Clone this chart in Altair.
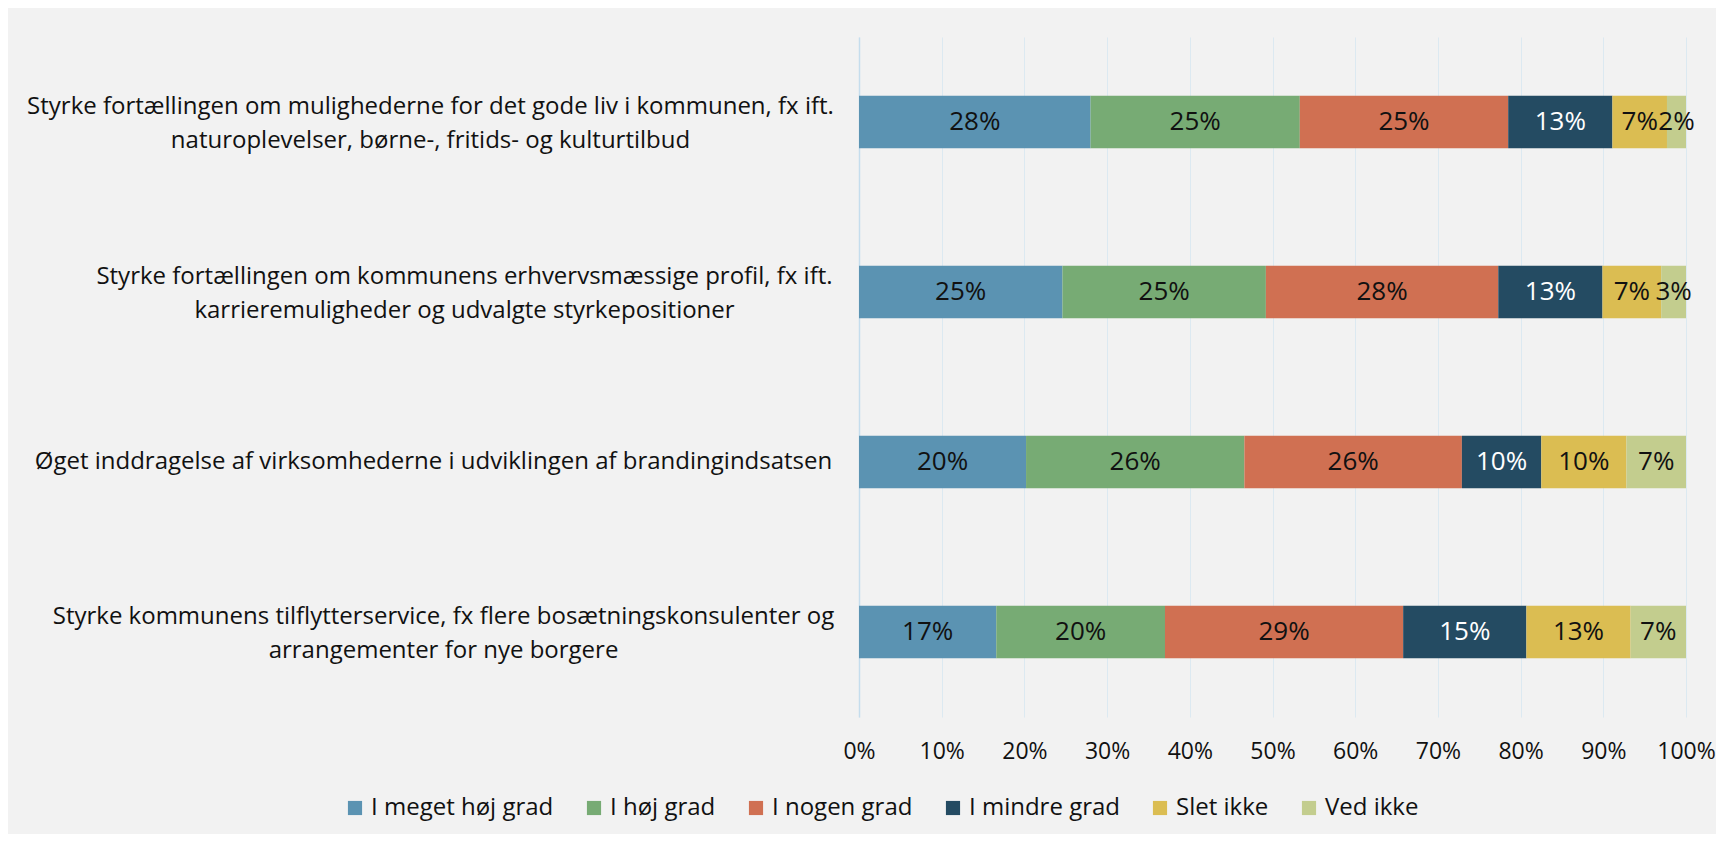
import altair as alt
import pandas as pd

categories = [
    "Styrke fortællingen om mulighederne for det gode liv i kommunen, fx ift.\nnaturoplevelser, børne-, fritids- og kulturtilbud",
    "Styrke fortællingen om kommunens erhvervsmæssige profil, fx ift.\nkarrieremuligheder og udvalgte styrkepositioner",
    "Øget inddragelse af virksomhederne i udviklingen af brandingindsatsen",
    "Styrke kommunens tilflytterservice, fx flere bosætningskonsulenter og\narrangementer for nye borgere",
]
series = ["I meget høj grad", "I høj grad", "I nogen grad", "I mindre grad", "Slet ikke", "Ved ikke"]
colors = ["#5b93b2", "#77ab74", "#d07052", "#244b62", "#dbbd52", "#c3cd8e"]

meget_hoej = [28.0, 24.6, 20.2, 16.6]
hoej = [25.3, 24.6, 26.4, 20.4]
nogen = [25.2, 28.1, 26.3, 28.8]
mindre = [12.6, 12.6, 9.6, 14.9]
slet_ikke = [6.6, 7.1, 10.3, 12.6]
ved_ikke = [2.3, 3.0, 7.2, 6.7]

x_ticks = [0, 0.1, 0.2, 0.3, 0.4, 0.5, 0.6, 0.7, 0.8, 0.9, 1.0]

rows = []
for s_i, (name, vals) in enumerate(zip(series, [meget_hoej, hoej, nogen, mindre, slet_ikke, ved_ikke])):
    for c, v in zip(categories, vals):
        rows.append({"cat": c, "series": name, "order": s_i, "value": v})
df = pd.DataFrame(rows)

FONT = "Open Sans"
TXT = "#111111"

base = alt.Chart(df).transform_stack(
    stack="value",
    groupby=["cat"],
    sort=[alt.SortField("order", order="ascending")],
    as_=["v0", "v1"],
    offset="normalize",
).transform_calculate(
    mid="(datum.v0 + datum.v1) / 2",
    lbl="format(datum.value, '.0f') + '%'",
)

y_enc = alt.Y(
    "cat:N",
    sort=categories,
    scale=alt.Scale(paddingInner=0.69, paddingOuter=0.345),
    axis=alt.Axis(
        title=None,
        labelExpr="split(datum.label, '\\n')",
        labelAlign="center",
        labelPadding={
            "condition": [
                {"test": "indexof(datum.value, 'erhvervsm') >= 0", "value": 395},
                {"test": "indexof(datum.value, 'inddragelse') >= 0", "value": 426},
                {"test": "indexof(datum.value, 'tilflytter') >= 0", "value": 416},
            ],
            "value": 429,
        },
        labelLimit=1200,
        labelFontSize=24,
        labelLineHeight=34,
        labelOffset={
            "condition": {"test": "indexof(datum.value, '\\n') >= 0", "value": -15},
            "value": 0,
        },
        labelFont=FONT,
        labelColor=TXT,
        ticks=False,
        domain=True,
        domainColor="#c5dded",
        domainWidth=1.5,
        grid=False,
    ),
)

bars = base.mark_bar().encode(
    y=y_enc,
    x=alt.X(
        "v0:Q",
        scale=alt.Scale(domain=[0, 1], nice=False),
        axis=alt.Axis(
            title=None,
            values=x_ticks,
            format=".0%",
            grid=True,
            gridColor="#dce9f1",
            gridWidth=1,
            domain=False,
            ticks=False,
            labelFlush=False,
            labelPadding=23,
            labelFontSize=23,
            labelFont=FONT,
            labelColor=TXT,
        ),
    ),
    x2="v1:Q",
    color=alt.Color(
        "series:N",
        sort=series,
        scale=alt.Scale(domain=series, range=colors),
        legend=alt.Legend(
            title=None,
            orient="none",
            direction="horizontal",
            legendX=-516,
            legendY=759,
            symbolType="square",
            symbolSize=200,
            symbolStrokeWidth=0,
            labelFontSize=24,
            labelLimit=600,
            labelFont=FONT,
            labelColor=TXT,
            labelOffset=4,
            columnPadding=28,
        ),
    ),
    order=alt.Order("order:Q"),
)

text = base.mark_text(fontSize=26, font=FONT, baseline="middle").encode(
    y=alt.Y("cat:N", sort=categories),
    x=alt.X("mid:Q"),
    text="lbl:N",
    color=alt.condition(
        alt.datum.series == "I mindre grad", alt.value("white"), alt.value(TXT)
    ),
)

chart = (
    alt.layer(bars, text)
    .properties(
        width=827,
        height=680,
        background="#f2f2f2",
        autosize=alt.AutoSizeParams(type="none"),
        padding={"left": 851, "top": 29, "right": 30, "bottom": 117},
    )
    .configure_view(stroke=None)
)

chart.save("out.html", embed_options={"renderer": "svg", "actions": False})
